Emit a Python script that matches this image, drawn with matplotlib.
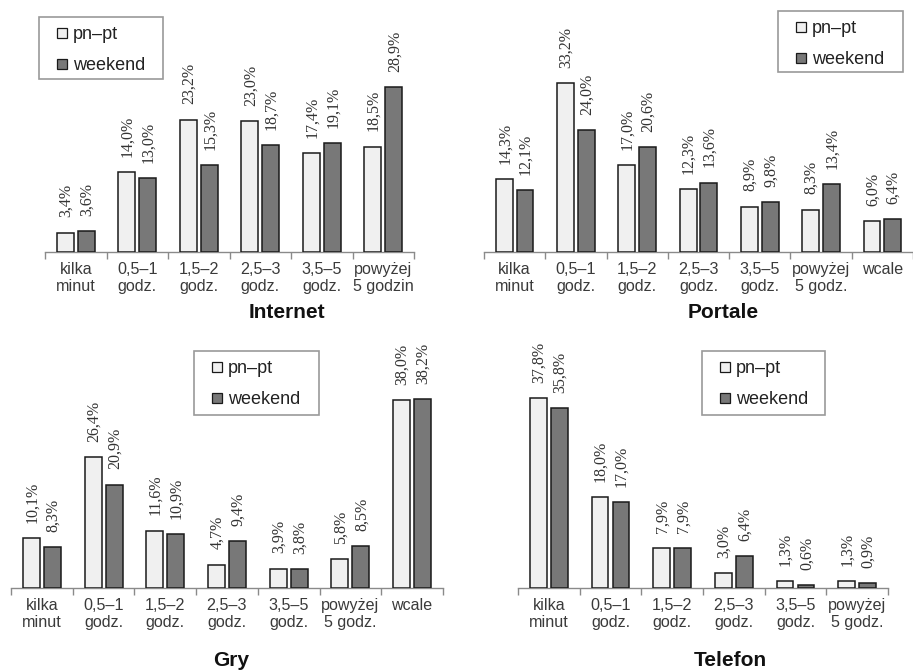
"""Czas korzystania z internetu, portali, gier i telefonu: pn-pt vs weekend."""

import matplotlib

matplotlib.use("Agg")
import matplotlib.pyplot as plt
from matplotlib.lines import Line2D
from matplotlib.patches import Rectangle

W, H = 913, 671

series_names = ["pn–pt", "weekend"]
light_color = "#f0f0f0"
dark_color = "#787878"

cats_6 = ["kilka\nminut", "0,5–1\ngodz.", "1,5–2\ngodz.", "2,5–3\ngodz.",
          "3,5–5\ngodz.", "powyżej\n5 godz."]
cats_7 = cats_6 + ["wcale"]
internet_cats = cats_6[:5] + ["powyżej\n5 godzin"]

internet_pnpt = [3.4, 14.0, 23.2, 23.0, 17.4, 18.5]
internet_weekend = [3.6, 13.0, 15.3, 18.7, 19.1, 28.9]

portale_pnpt = [14.3, 33.2, 17.0, 12.3, 8.9, 8.3, 6.0]
portale_weekend = [12.1, 24.0, 20.6, 13.6, 9.8, 13.4, 6.4]

gry_pnpt = [10.1, 26.4, 11.6, 4.7, 3.9, 5.8, 38.0]
gry_weekend = [8.3, 20.9, 10.9, 9.4, 3.8, 8.5, 38.2]

telefon_pnpt = [37.8, 18.0, 7.9, 3.0, 1.3, 1.3]
telefon_weekend = [35.8, 17.0, 7.9, 6.4, 0.6, 0.9]

# pixel layout: left, right, baseline, top, category width, px per %, legend box, title centre
panels = [
    dict(title="Internet", cats=internet_cats, a=internet_pnpt, b=internet_weekend,
         left=45, right=414, base=252, top=8, catw=61.5, scale=5.7,
         legend=(39, 17, 163, 79), tpos=(287, 313)),
    dict(title="Portale", cats=cats_7, a=portale_pnpt, b=portale_weekend,
         left=484, right=913, base=252, top=8, catw=62.06, scale=5.09,
         legend=(778, 11, 903, 72), tpos=(723, 313)),
    dict(title="Gry", cats=cats_7, a=gry_pnpt, b=gry_weekend,
         left=11, right=443, base=588, top=340, catw=61.7, scale=4.95,
         legend=(194, 351, 319, 415), tpos=(231, 661)),
    dict(title="Telefon", cats=cats_6, a=telefon_pnpt, b=telefon_weekend,
         left=518, right=888, base=588, top=340, catw=61.7, scale=5.03,
         legend=(702, 351, 825, 415), tpos=(730, 661)),
]


def fmt(v):
    return f"{v:.1f}".replace(".", ",") + "%"


fig = plt.figure(figsize=(W / 100, H / 100), dpi=100)
fig.patch.set_facecolor("white")

offset = 0.17
width = 0.275

for p in panels:
    ax = fig.add_axes([p["left"] / W, 1 - p["base"] / H,
                       (p["right"] - p["left"]) / W, (p["base"] - p["top"]) / H])
    n = len(p["cats"])
    xs = list(range(n))
    ax.set_xlim(-0.5, -0.5 + (p["right"] - p["left"]) / p["catw"])
    ax.set_ylim(0, (p["base"] - p["top"]) / p["scale"])

    for vals, dx, color in ((p["a"], -offset, light_color), (p["b"], offset, dark_color)):
        pos = [x + dx for x in xs]
        ax.bar(pos, vals, width=width, color=color, edgecolor="#1a1a1a",
               linewidth=1.1, zorder=3)
        for x, v in zip(pos, vals):
            ax.annotate(fmt(v), (x, v), xytext=(0.5, 11), textcoords="offset points",
                        rotation=90, ha="center", va="bottom",
                        fontsize=11.5, family="Liberation Serif", color="#333333")

    for side in ("top", "right", "left"):
        ax.spines[side].set_visible(False)
    ax.spines["bottom"].set_color("#8a8a8a")
    ax.spines["bottom"].set_linewidth(1.0)
    ax.set_yticks([])
    ax.set_xticks([x - 0.5 for x in range(n + 1)])
    ax.set_xticklabels([])
    ax.tick_params(axis="x", which="major", length=5, width=1.0, color="#8a8a8a")
    ax.set_xticks(xs, minor=True)
    ax.set_xticklabels(p["cats"], minor=True, fontsize=11.6,
                       family="Liberation Sans", color="#3a3a3a")
    ax.tick_params(axis="x", which="minor", length=0, pad=7)

    # legend frame drawn separately so its box matches the reference
    x0, y0, x1, y1 = p["legend"]
    fig.patches.append(Rectangle((x0 / W, 1 - y1 / H), (x1 - x0) / W, (y1 - y0) / H,
                                 transform=fig.transFigure, facecolor="white",
                                 edgecolor="#9a9a9a", linewidth=1.2, zorder=5))
    handles = [
        Line2D([], [], linestyle="none", marker="s", markersize=6.5,
               markerfacecolor=c, markeredgecolor="#1a1a1a", markeredgewidth=0.9)
        for c in (light_color, dark_color)
    ]
    leg = ax.legend(handles, series_names, loc="upper left", frameon=False,
                    bbox_to_anchor=((x0 + 16) / W, 1 - (y0 + 9) / H),
                    bbox_transform=fig.transFigure, borderpad=0, borderaxespad=0,
                    handlelength=0.8, handletextpad=0.2, labelspacing=0.8,
                    prop={"family": "Liberation Sans", "size": 13})
    for t in leg.get_texts():
        t.set_color("#222222")
    leg.set_zorder(6)
    fig.add_artist(leg)

    tx, ty = p["tpos"]
    fig.text(tx / W, 1 - ty / H, p["title"], ha="center", va="center",
             fontsize=15, fontweight="bold", family="Liberation Sans", color="#111111")

fig.savefig("out.png", dpi=100)
